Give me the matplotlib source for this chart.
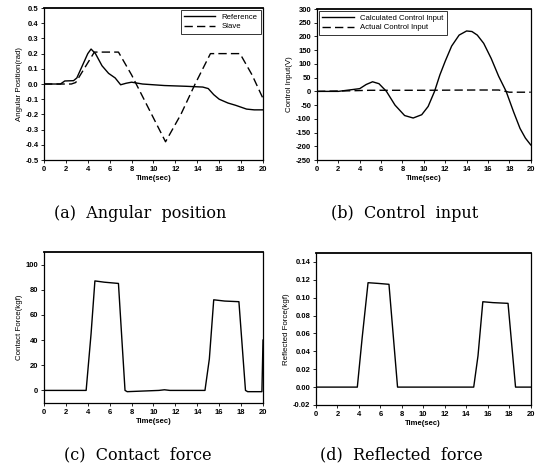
import matplotlib
matplotlib.use("Agg")
import matplotlib.pyplot as plt

# (a) angular position
t_ref = [0, 1.5, 1.9, 2.7, 3.0, 3.5, 4.0, 4.3, 4.7, 5.3, 5.9, 6.5, 7.0, 7.5, 8.0, 9.0, 11.0, 13.0, 14.5, 15.0, 15.5, 16.0, 16.8, 17.5, 18.5, 19.2, 20.0]
ref = [0, 0.0, 0.02, 0.022, 0.04, 0.12, 0.2, 0.23, 0.2, 0.12, 0.07, 0.04, -0.005, 0.005, 0.012, 0.0, -0.01, -0.015, -0.02, -0.03, -0.07, -0.1, -0.125, -0.14, -0.165, -0.17, -0.17]
t_slv = [0, 2.5, 2.9, 4.6, 6.8, 8.0, 11.1, 12.5, 13.8, 15.2, 17.9, 19.0, 20.0]
slv = [0, 0.0, 0.01, 0.21, 0.21, 0.06, -0.38, -0.2, 0.0, 0.2, 0.2, 0.06, -0.095]

# (b) control input
t_calc = [0, 2.0, 3.0, 4.0, 4.6, 5.2, 5.8, 6.5, 7.3, 8.2, 9.0, 9.8, 10.4, 11.0, 11.5, 12.0, 12.6, 13.3, 14.0, 14.5, 15.0, 15.6, 16.3, 17.0, 17.7, 18.4, 19.0, 19.5, 20.0]
calc = [0, 0, 5, 10, 25, 35, 28, 0, -50, -88, -97, -85, -55, 0, 60, 110, 165, 205, 220, 218, 205, 175, 120, 55, 0, -75, -135, -170, -195]
t_act = [0, 3.0, 5.0, 10.0, 15.0, 17.0, 18.0, 20.0]
act = [0, 2, 4, 4, 5, 5, -3, -3]

# (c) contact force
t_cf = [0, 3.85, 4.3, 4.65, 5.5, 6.8, 7.4, 7.6, 10.5, 11.0, 11.5, 14.7, 15.1, 15.5, 16.5, 17.8, 18.4, 18.6, 19.9, 20.0]
cf = [0, 0, 45, 87, 86, 85, 0, -1, 0, 0.5, 0, 0, 25, 72, 71, 70.5, 0, -1, -1, 40]

# (d) reflected force
t_rf = [0, 3.85, 4.3, 4.85, 5.8, 6.8, 7.6, 14.7, 15.1, 15.55, 16.5, 17.9, 18.6, 20.0]
rf = [0, 0, 0.055, 0.1168, 0.116, 0.115, 0, 0, 0.035, 0.0955, 0.0945, 0.0937, 0, 0]

x_ticks = list(range(0, 21, 2))
captions = ["(a)  Angular  position", "(b)  Control  input",
            "(c)  Contact  force", "(d)  Reflected  force"]

plt.rcParams["font.family"] = ["Liberation Sans", "DejaVu Sans"]
tick_font = dict(fontsize=5.5, fontweight="bold")

fig = plt.figure(figsize=(5.35, 4.74), dpi=100)
ax_a = fig.add_axes([0.0822, 0.6624, 0.4094, 0.3207])
ax_b = fig.add_axes([0.5925, 0.6624, 0.3995, 0.3186])
ax_c = fig.add_axes([0.0822, 0.1498, 0.4094, 0.3186])
ax_d = fig.add_axes([0.5907, 0.1456, 0.4010, 0.3206])

def style(ax, ylabel, yticks, ylim, fmt):
    ax.set_xlim(0, 20)
    ax.set_ylim(*ylim)
    ax.set_xticks(x_ticks)
    ax.set_xticklabels([str(v) for v in x_ticks], **tick_font)
    ax.set_yticks(yticks)
    ax.set_yticklabels([fmt(v) for v in yticks], **tick_font)
    ax.tick_params(direction="out", length=2, width=0.6, pad=2)
    ax.set_xlabel("Time(sec)", fontsize=5.5, fontweight="bold", labelpad=2)
    ax.set_ylabel(ylabel, fontsize=5.7, labelpad=2)
    for s in ax.spines.values():
        s.set_linewidth(0.9)
    ax.spines["top"].set_linewidth(1.3)

leg_kw = dict(fontsize=5.6, frameon=True, fancybox=False, edgecolor="black",
              handlelength=4.0, borderpad=0.45, labelspacing=0.25, borderaxespad=0.25)

ax_a.plot(t_ref, ref, color="black", lw=1.0, label="Reference")
ax_a.plot(t_slv, slv, color="black", lw=1.0, ls=(0, (6, 3)), label="Slave")
style(ax_a, "Angular Position(rad)", [i / 10 for i in range(-5, 6)], (-0.5, 0.5),
      lambda v: f"{v:.1f}")
ax_a.legend(loc="upper right", **leg_kw).get_frame().set_linewidth(0.7)

ax_b.plot(t_calc, calc, color="black", lw=1.0, label="Calculated Control Input")
ax_b.plot(t_act, act, color="black", lw=1.0, ls=(0, (6, 3)), label="Actual Control Input")
style(ax_b, "Control Input(V)", list(range(-250, 301, 50)), (-250, 300),
      lambda v: f"{v:d}")
ax_b.legend(loc="upper left", **leg_kw).get_frame().set_linewidth(0.7)

ax_c.plot(t_cf, cf, color="black", lw=1.0)
style(ax_c, "Contact Force(kgf)", list(range(0, 101, 20)), (-10, 110),
      lambda v: f"{v:d}")

ax_d.plot(t_rf, rf, color="black", lw=1.0)
style(ax_d, "Reflected Force(kgf)", [i / 100 for i in range(-2, 15, 2)], (-0.02, 0.15),
      lambda v: f"{v:.2f}")

cap_font = dict(fontsize=11.5, family=["DejaVu Serif"], ha="center", va="center")
fig.text(140 / 535, 1 - 213 / 474, captions[0], **cap_font)
fig.text(405 / 535, 1 - 213 / 474, captions[1], **cap_font)
fig.text(138 / 535, 1 - 455 / 474, captions[2], **cap_font)
fig.text(401 / 535, 1 - 455 / 474, captions[3], **cap_font)

fig.savefig("out.png", dpi=100)
